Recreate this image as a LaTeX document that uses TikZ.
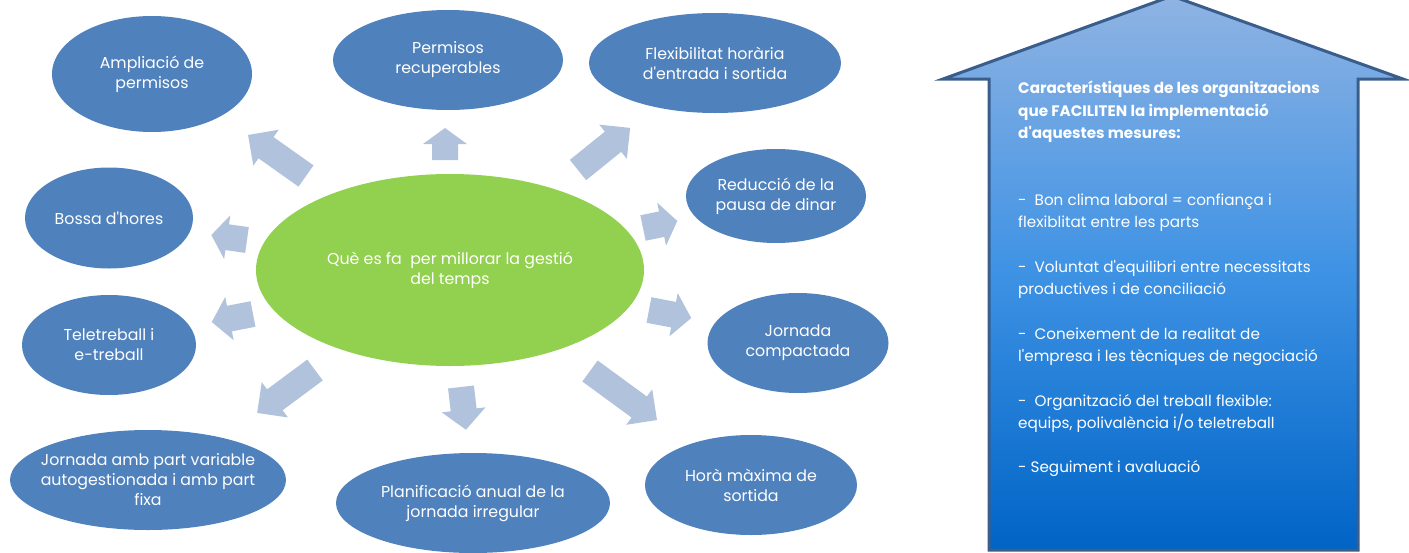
\documentclass[tikz,border=0pt]{standalone}
\usepackage{fontspec}
\setmainfont{Poppins}[Ligatures=TeXOff]
\usetikzlibrary{shapes.geometric}
\definecolor{ellblue}{HTML}{4F81BD}
\definecolor{centgreen}{HTML}{92D050}
\definecolor{arrowc}{HTML}{B1C2DC}
\definecolor{bigtop}{HTML}{8FB3E3}
\definecolor{bigmid}{HTML}{3E92E4}
\definecolor{bigbot}{HTML}{0064C6}
\definecolor{bigline}{HTML}{3A5E8C}
\tikzset{
  ell/.style={ellipse, fill=ellblue, text=white, align=center, inner sep=0pt,
    font=\fontsize{15.8}{20}\selectfont},
  elltext/.style={text=white, align=center, inner sep=0pt,
    font=\fontsize{15.8}{20}\selectfont},
  cent/.style={ellipse, fill=centgreen, text=white, align=center, inner sep=0pt,
    font=\fontsize{15.8}{20}\selectfont},
  pics/barr/.style n args={2}{code={
    \fill[arrowc] (0,-13) -- ({#1-#2},-13) -- ({#1-#2},-22) -- (#1,0)
      -- ({#1-#2},22) -- ({#1-#2},13) -- (0,13) -- cycle;}},
  boxtext/.style={text=white, align=left, inner sep=0pt, anchor=north west,
    font=\fontsize{15.2}{22.3}\selectfont}
}
\begin{document}
\begin{tikzpicture}[x=1pt,y=-1pt]
\useasboundingbox (0,0) rectangle (1409,552);

% ellipses
\node[ell, minimum width=200pt, minimum height=116pt] (amp) at (152,74) {Ampliació de\\permisos};
\node[ell, minimum width=230pt, minimum height=100pt] (perm) at (448,60) {Permisos\\recuperables};
\node[ell, minimum width=252pt, minimum height=100pt] (flex) at (715,63) {Flexibilitat horària\\d'entrada i sortida};
\node[ell, minimum width=180pt, minimum height=94pt] (red) at (776,196) {Reducció de la\\pausa de dinar};
\node[ell, minimum width=181pt, minimum height=100pt] (comp) at (798,343) {Jornada\\compactada};
\node[ell, minimum width=212pt, minimum height=100pt] (hora) at (751,485) {Horà màxima de\\sortida};
\node[ell, minimum width=274pt, minimum height=100pt] (plan) at (473,503) {};
\node[elltext] (plant) at (plan) {Planificació anual de la\\jornada irregular};
\node[ell, minimum width=276pt, minimum height=100pt] (jorn) at (148,480) {};
\node[elltext] (jornt) at (jorn) {Jornada amb part variable\\autogestionada i amb part\\fixa};
\node[ell, minimum width=174pt, minimum height=100pt] (tele) at (109,345) {Teletreball i\\e-treball};
\node[ell, minimum width=168pt, minimum height=101pt] (bossa) at (109,218) {Bossa d'hores};
\node[cent, minimum width=388pt, minimum height=192pt] (cen) at (450,270) {Què es fa\ \ per millorar la gestió\\del temps};

% block arrows
\pic[rotate=144.7] at (306,176) {barr={71}{22}};
\pic[rotate=90] at (445,160) {barr={32}{16}};
\pic[rotate=38.9] at (578,170) {barr={67}{22}};
\pic[rotate=11.6] at (643,228) {barr={35}{16}};
\pic[rotate=-10.8] at (649,310) {barr={43}{18}};
\pic[rotate=-36.2] at (590,371) {barr={83}{22}};
\pic[rotate=-83.4] at (461,387) {barr={43}{20}};
\pic[rotate=-143.4] at (315,370) {barr={72}{22}};
\pic[rotate=-169] at (253,314) {barr={42}{18}};
\pic[rotate=172] at (247,240) {barr={36}{16}};

% big up arrow
\coordinate (apex) at (1172,-4);
\shade[top color=bigtop, bottom color=bigbot, middle color=bigmid]
  (apex) -- (1403,79) -- (1358,79) -- (1358,550) -- (989,550) -- (989,79) -- (943,79) -- cycle;
\draw[bigline, line width=3pt, line join=miter]
  (apex) -- (1403,79) -- (1358,79) -- (1358,550) -- (989,550) -- (989,79) -- (943,79) -- cycle;

\node[boxtext] (title) at (1018,81) {\textbf{Característiques de les organitzacions}\\
\textbf{que FACILITEN la implementació}\\
\textbf{d'aquestes mesures:}\\
~\\
~\\
-\ \ Bon clima laboral = confiança i\\
flexiblitat entre les parts\\
~\\
-\ \ Voluntat d'equilibri entre necessitats\\
productives i de conciliació\\
~\\
-\ \ Coneixement de la realitat de\\
l'empresa i les tècniques de negociació\\
~\\
-\ \ Organització del treball flexible:\\
equips, polivalència i/o teletreball\\
~\\
- Seguiment i avaluació};
\end{tikzpicture}
\end{document}
